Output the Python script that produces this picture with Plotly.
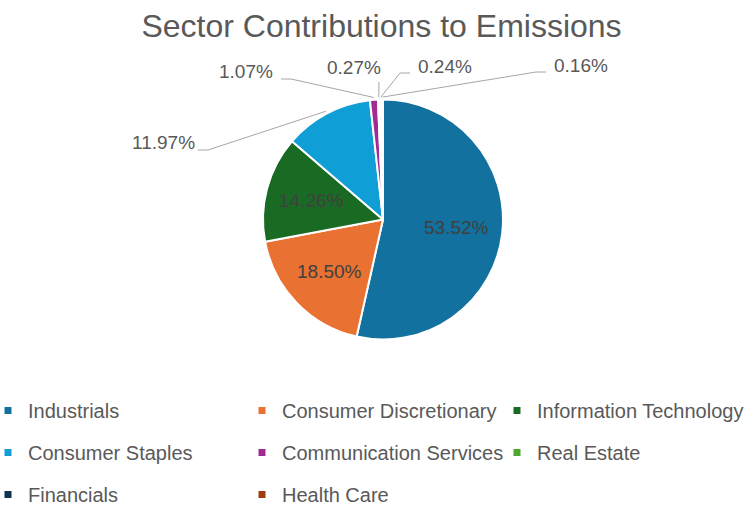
import math
import plotly.graph_objects as go

# ---------------- data ----------------
sectors = ["Industrials", "Consumer Discretionary", "Information Technology",
           "Consumer Staples", "Communication Services", "Real Estate",
           "Financials", "Health Care"]
shares = [53.52, 18.50, 14.26, 11.97, 1.07, 0.27, 0.24, 0.16]
colors = ["#12719E", "#E97132", "#196B24", "#0F9ED5", "#A02B93", "#4EA72E",
          "#0E3452", "#9C3F10"]
title_text = "Sector Contributions to Emissions"

# legend columns (indices into sectors)
legend_columns = [[0, 3, 6], [1, 4, 7], [2, 5]]

# ---------------- layout constants ----------------
W, H = 749, 508
CX, CY, R = 383, 219.5, 120          # pie centre / radius in px
FONT = "Liberation Sans, Arial, sans-serif"
inside_set = {0, 1, 2}
# outside label placement (px centre) and leader attachment side
outside_layout = {
    3: (163, 143, "left"),
    4: (246, 72, "left"),
    5: (354, 68, "bottom"),
    6: (445, 66, "right"),
    7: (581, 65, "right"),
}
label_half_w = 30


def px(x):
    return x / W


def py(y):
    return 1 - y / H


total = sum(shares)
mids = []
acc = 0.0
for v in shares:
    mids.append((acc + v / 2) / total * 2 * math.pi)
    acc += v


def polar(theta, f):
    return CX + R * f * math.sin(theta), CY - R * f * math.cos(theta)


fig = go.Figure()
fig.add_trace(go.Pie(
    labels=sectors, values=shares, sort=False, direction="clockwise", rotation=0,
    marker=dict(colors=colors, line=dict(color="white", width=2)),
    textinfo="none", showlegend=False, hoverinfo="label+value",
    domain=dict(x=[px(CX - R), px(CX + R)], y=[py(CY + R), py(CY - R)]),
))

# legend entries (three columns)
for li, col in enumerate(legend_columns):
    lname = "legend" if li == 0 else f"legend{li + 1}"
    for i in col:
        fig.add_trace(go.Scatter(
            x=[None], y=[None], mode="markers", name=sectors[i],
            marker=dict(symbol="square", size=7, color=colors[i]),
            legend=lname, legendgroup=sectors[i], showlegend=True, hoverinfo="skip",
        ))

annotations = []
shapes = []
for i, v in enumerate(shares):
    txt = f"{v:.2f}%"
    if i in inside_set:
        x, y = polar(mids[i], 0.62)
        annotations.append(dict(x=px(x), y=py(y), xref="paper", yref="paper",
                                xanchor="center", yanchor="middle",
                                text=txt, showarrow=False,
                                font=dict(family=FONT, size=19, color="#404040")))
    else:
        lx, ly, side = outside_layout[i]
        annotations.append(dict(x=px(lx), y=py(ly), xref="paper", yref="paper",
                                xanchor="center", yanchor="middle",
                                text=txt, showarrow=False,
                                font=dict(family=FONT, size=19, color="#595959")))
        ex, ey = polar(mids[i], 1.02)
        if side == "bottom":
            pts = [(ex, ly + 14), (ex, ey)]
        elif side == "left":
            sx = lx + label_half_w + 5
            pts = [(sx, ly + 7), (sx + 10, ly + 7), (ex, ey)]
        else:
            sx = lx - label_half_w - 5
            pts = [(sx, ly + 7), (sx - 10, ly + 7), (ex, ey)]
        for (x0, y0), (x1, y1) in zip(pts[:-1], pts[1:]):
            shapes.append(dict(type="line", xref="paper", yref="paper",
                               x0=px(x0), y0=py(y0), x1=px(x1), y1=py(y1),
                               line=dict(color="#A6A6A6", width=1)))

legend_common = dict(orientation="v", yanchor="top", xanchor="left",
                     y=py(391), tracegroupgap=13, bgcolor="rgba(0,0,0,0)",
                     font=dict(family=FONT, size=20, color="#595959"),
                     itemclick=False, itemdoubleclick=False)

fig.update_layout(
    width=W, height=H,
    margin=dict(l=0, r=0, t=0, b=0, autoexpand=False),
    paper_bgcolor="white", plot_bgcolor="white",
    title=dict(text=title_text, x=px(381.5), xanchor="center",
               y=1 - 26 / H, yanchor="middle", yref="container",
               font=dict(family=FONT, size=32, color="#595959")),
    xaxis=dict(visible=False), yaxis=dict(visible=False),
    legend=dict(x=px(-12), **legend_common),
    legend2=dict(x=px(242), **legend_common),
    legend3=dict(x=px(497), **legend_common),
    annotations=annotations, shapes=shapes,
)

fig.write_html("out.html")
